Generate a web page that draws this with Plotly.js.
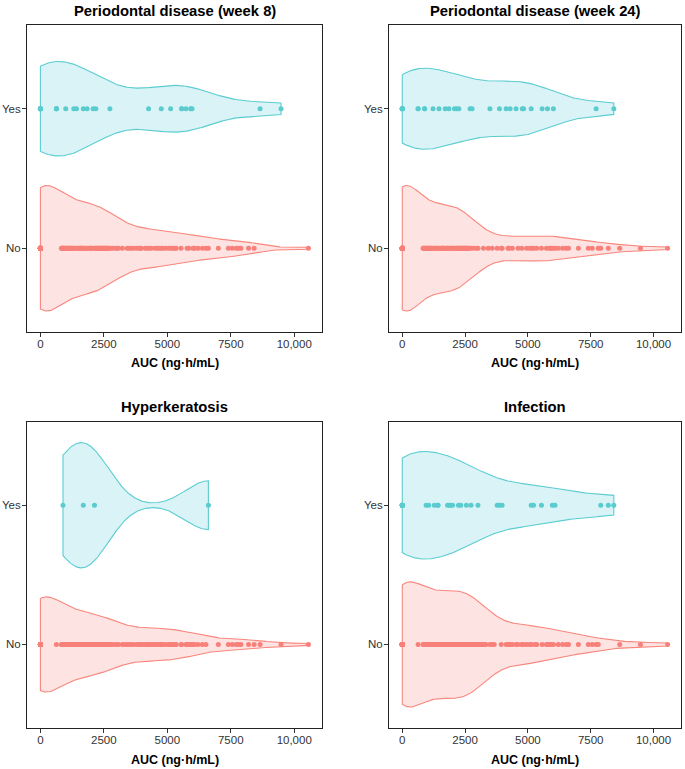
<!DOCTYPE html>
<html><head><meta charset="utf-8">
<script src="https://cdn.plot.ly/plotly-3.0.1.min.js"></script>
<style>html,body{margin:0;padding:0;background:#fff}#chart{width:685px;height:769px}</style>
</head><body><div id="chart"></div>
<script>
// ---- data (AUC, ng·h/mL) ----
const panelTitles = ['Periodontal disease (week 8)', 'Periodontal disease (week 24)', 'Hyperkeratosis', 'Infection'];
const categories = ['No', 'Yes'];          // bottom to top
const xTickVals = [0, 2500, 5000, 7500, 10000];
const xTickText = ['0', '2500', '5000', '7500', '10,000'];
const xAxisTitle = 'AUC (ng·h/mL)';

const p1Yes = [0, 0, 0, 0, 0, 0, 0, 0, 630, 630, 630, 999, 1315, 1420, 1690, 1841, 2078, 2183, 2737,
  4262, 4762, 5131, 5566, 5566, 5736, 5920, 5973, 8655, 9480];
const p1No = [0,0,0,0,0,0,0,0,0,0, 0,0,0,0,0,0,0,0,0,0, 0,0,0,0,0,0,0,0,0,0, 0,0,0,0,0,0,0,0,0,0, 0,0,0,0,0,0,0,0,0,0, 0,0,0,0,0,0,
  828, 850, 866, 890, 912, 935, 950, 975, 1030, 1053, 1087, 1110, 1128, 1171, 1200, 1225, 1250, 1276, 1352, 1394,
  1462, 1497, 1546, 1580, 1589, 1623, 1660, 1712, 1751, 1803, 1857, 1895, 1948, 1990, 2000, 2040, 2131, 2173, 2210, 2237,
  2252, 2290, 2300, 2329, 2371, 2390, 2420, 2440, 2468, 2490, 2512, 2553, 2580, 2610, 2640, 2670, 2699, 2778, 2840, 2960,
  3013, 3080, 3230, 3420, 3489, 3580, 3660, 3777, 3869, 3940, 3974, 4133, 4210, 4291, 4380, 4528, 4610, 4700, 4778, 4831,
  4950, 5060, 5150, 5224, 5290, 5350, 5540, 5779, 5850, 6015, 6080, 6210, 6380, 6520, 6618, 7010, 7405, 7560, 7715, 7800,
  7900, 8200, 8420, 10560];

const p2Yes = [0, 0, 0, 0, 0, 0, 0, 630, 630, 890, 890, 1225, 1462, 1712, 1857, 2078, 2173, 2252, 2699, 2778,
  3489, 3869, 4133, 4291, 4528, 4778, 4831, 5131, 5566, 5779, 6015, 7715, 8420];
const p2No = [0,0,0,0,0,0,0,0,0,0, 0,0,0,0,0,0,0,0,0,0, 0,0,0,0,0,0,0,0,0,0, 0,0,0,0,0,0,0,0,0,0, 0,0,0,0,0,0,0,0,0,0, 0,0,0,0,0,0,
  828, 850, 866, 912, 935, 950, 975, 999, 1030, 1053, 1087, 1110, 1128, 1171, 1200, 1250, 1276, 1315, 1352, 1394,
  1420, 1497, 1546, 1580, 1589, 1623, 1660, 1690, 1751, 1780, 1803, 1841, 1895, 1948, 1990, 2000, 2040, 2131, 2150, 2183,
  2210, 2237, 2290, 2300, 2329, 2371, 2390, 2420, 2440, 2468, 2490, 2512, 2553, 2580, 2610, 2640, 2670, 2737, 2840, 2960,
  3013, 3230, 3420, 3580, 3777, 3940, 3974, 4210, 4262, 4380, 4610, 4762, 4950, 5060, 5150, 5224, 5350, 5540, 5736, 5850,
  5920, 5973, 6080, 6210, 6380, 6520, 6618, 7010, 7405, 7560, 7800, 7900, 8200, 8655, 9480, 10560];

const p3Yes = [890, 1690, 2131, 6618];
const p3No = [0,0,0,0,0,0,0,0,0,0, 0,0,0,0,0,0,0,0,0,0, 0,0,0,0,0,0,0,0,0,0, 0,0,0,0,0,0,0,0,0,0, 0,0,0,0,0,0,0,0,0,0, 0,0,0,0,0,0,0,0,0,0, 0,0,0,0,
  630, 828, 850, 866, 912, 935, 950, 975, 999, 1030, 1053, 1087, 1110, 1128, 1171, 1200, 1225, 1250, 1276, 1315,
  1352, 1394, 1420, 1462, 1497, 1546, 1589, 1623, 1660, 1712, 1751, 1803, 1841, 1857, 1895, 1948, 2000, 2040, 2078, 2173,
  2183, 2210, 2237, 2252, 2290, 2329, 2371, 2390, 2420, 2440, 2468, 2490, 2512, 2553, 2580, 2610, 2640, 2670, 2699, 2737,
  2778, 2840, 2960, 3013, 3080, 3230, 3330, 3420, 3489, 3580, 3660, 3777, 3869, 3940, 3974, 4050, 4133, 4210, 4262, 4291,
  4380, 4470, 4528, 4610, 4700, 4762, 4778, 4831, 4950, 5060, 5131, 5150, 5224, 5290, 5350, 5540, 5566, 5736, 5779, 5850,
  5920, 5973, 6015, 6080, 6210, 6380, 6520, 7010, 7405, 7560, 7715, 7800, 7900, 8200, 8420, 8655, 9480, 10560];

const p4Yes = [0, 0, 0, 0, 0, 0, 0, 0, 0, 0, 0, 950, 1053, 1276, 1420, 1420, 1803, 1895, 1895, 2000,
  2237, 2329, 2553, 2737, 3013, 3777, 3869, 3974, 5131, 5224, 5540, 5973, 6080, 7900, 8200, 8420];
const p4No = [0,0,0,0,0,0,0,0,0,0, 0,0,0,0,0,0,0,0,0,0, 0,0,0,0,0,0,0,0,0,0, 0,0,0,0,0,0,0,0,0,0, 0,0,0,0,0,0,0,
  630, 828, 850, 866, 890, 912, 935, 975, 999, 1030, 1087, 1110, 1128, 1171, 1200, 1225, 1250, 1315, 1352, 1394,
  1462, 1497, 1546, 1580, 1589, 1623, 1660, 1690, 1712, 1751, 1780, 1841, 1857, 1948, 1990, 2040, 2078, 2131, 2173, 2183,
  2210, 2252, 2290, 2300, 2371, 2390, 2420, 2440, 2468, 2490, 2512, 2550, 2580, 2610, 2640, 2670, 2699, 2720, 2778, 2800,
  2840, 2860, 2880, 2920, 2960, 2990, 3040, 3080, 3110, 3150, 3190, 3230, 3260, 3330, 3489, 3580, 3660, 3940, 4133, 4210,
  4262, 4291, 4380, 4528, 4610, 4762, 4778, 4831, 4950, 5060, 5150, 5290, 5350, 5566, 5736, 5779, 5850, 5920, 6015, 6210,
  6380, 6520, 6618, 7010, 7405, 7560, 7715, 7800, 8655, 9480, 10560];

const panels = [
  {yes: p1Yes, no: p1No},
  {yes: p2Yes, no: p2No},
  {yes: p3Yes, no: p3No},
  {yes: p4Yes, no: p4No}
];

// ---- styling ----
const FONT = 'Liberation Sans, Arial, Helvetica, sans-serif';
const STYLE = {
  Yes: {line: '#5BCDD1', fill: '#D9F3F6', pt: '#5ACBCE'},
  No:  {line: '#F8867D', fill: '#FDE3E1', pt: '#F7807A'}
};
const HALF_WIDTH = 0.45;   // violin half width (category units)

// R's bw.nrd0
function nrd0(v) {
  const s = v.slice().sort((a, b) => a - b), n = s.length;
  const mean = s.reduce((a, b) => a + b, 0) / n;
  const sd = Math.sqrt(s.reduce((a, b) => a + (b - mean) * (b - mean), 0) / (n - 1));
  const q = p => { const h = (n - 1) * p, lo = Math.floor(h); return lo + 1 < n ? s[lo] + (h - lo) * (s[lo + 1] - s[lo]) : s[lo]; };
  let lo = Math.min(sd, (q(0.75) - q(0.25)) / 1.34);
  if (!(lo > 0)) lo = sd || Math.abs(s[0]) || 1;
  return 0.9 * lo * Math.pow(n, -0.2);
}
// Gaussian kernel density, trimmed to the data range (as geom_violin(trim = TRUE))
function density(vals, m) {
  const bw = nrd0(vals), n = vals.length, c = 1 / (n * bw * Math.sqrt(2 * Math.PI));
  const lo = Math.min(...vals), hi = Math.max(...vals);
  const xs = [], ds = [];
  for (let i = 0; i < m; i++) {
    const x = lo + (hi - lo) * i / (m - 1);
    let s = 0;
    for (let j = 0; j < n; j++) { const u = (x - vals[j]) / bw; s += Math.exp(-0.5 * u * u); }
    xs.push(x); ds.push(s * c);
  }
  return {xs, ds};
}

const xDom = [[27 / 685, 322 / 685], [389 / 685, 681 / 685]];
const yDom = [[1 - 332 / 769, 1 - 25 / 769], [1 - 728 / 769, 1 - 421.7 / 769]];
const catPos = categories.map((c, i) => i + 1);

const traces = [];
const layout = {
  width: 685, height: 769,
  margin: {l: 0, r: 0, t: 0, b: 0},
  paper_bgcolor: '#fff', plot_bgcolor: '#fff',
  showlegend: false,
  font: {family: FONT, color: '#000'},
  annotations: []
};

panels.forEach((p, i) => {
  const k = i + 1, sfx = k === 1 ? '' : String(k);
  const xa = 'x' + sfx, ya = 'y' + sfx;
  const col = i % 2, row = Math.floor(i / 2);
  const groups = {No: p.no, Yes: p.yes};
  const dens = {};
  categories.forEach(c => { dens[c] = density(groups[c], 512); });
  // scale = "area": widths proportional to density, widest violin in the panel gets full width
  const maxD = Math.max(...categories.map(c => Math.max(...dens[c].ds)));
  categories.forEach((c, ci) => {
    const pos = catPos[ci], d = dens[c];
    const up = d.ds.map(v => pos + HALF_WIDTH * v / maxD);
    const dn = d.ds.map(v => pos - HALF_WIDTH * v / maxD).reverse();
    traces.push({
      type: 'scatter', mode: 'lines', name: c, xaxis: xa, yaxis: ya,
      x: d.xs.concat(d.xs.slice().reverse(), [d.xs[0]]),
      y: up.concat(dn, [up[0]]),
      fill: 'toself', fillcolor: STYLE[c].fill,
      line: {color: STYLE[c].line, width: 1.1},
      hoverinfo: 'skip'
    });
  });
  categories.forEach((c, ci) => {
    traces.push({
      type: 'scatter', mode: 'markers', name: c, xaxis: xa, yaxis: ya,
      x: groups[c], y: groups[c].map(() => catPos[ci]),
      marker: {color: STYLE[c].pt, size: 5, line: {width: 0}},
      hoverinfo: 'skip'
    });
  });
  layout['xaxis' + sfx] = {
    domain: xDom[col], anchor: ya, range: [-528, 11094],
    tickvals: xTickVals, ticktext: xTickText,
    ticks: 'outside', ticklen: 4, tickwidth: 1, tickcolor: '#333',
    ticklabelstandoff: -3,
    tickfont: {family: FONT, size: 11.5, color: '#333'},
    showline: true, mirror: true, linecolor: '#222', linewidth: 1,
    showgrid: false, zeroline: false, fixedrange: true
  };
  layout['yaxis' + sfx] = {
    domain: yDom[row], anchor: xa, range: [0.4, 2.6],
    tickvals: catPos, ticktext: categories,
    ticks: 'outside', ticklen: 4, tickwidth: 1, tickcolor: '#333',
    ticklabelstandoff: -1,
    tickfont: {family: FONT, size: 11.5, color: '#333'},
    showline: true, mirror: true, linecolor: '#222', linewidth: 1,
    showgrid: false, zeroline: false, fixedrange: true
  };
  const xc = (xDom[col][0] + xDom[col][1]) / 2;
  layout.annotations.push({
    text: panelTitles[i], xref: 'paper', yref: 'paper', x: xc,
    y: row === 0 ? 1 - 11 / 769 : 1 - 407 / 769, xanchor: 'center', yanchor: 'middle',
    showarrow: false, font: {family: FONT, size: 14.8, color: '#000', weight: 'bold'}
  });
  layout.annotations.push({
    text: xAxisTitle, xref: 'paper', yref: 'paper', x: xc,
    y: row === 0 ? 1 - 363 / 769 : 1 - 760 / 769, xanchor: 'center', yanchor: 'middle',
    showarrow: false, font: {family: FONT, size: 12.5, color: '#000', weight: 'bold'}
  });
});

Plotly.newPlot('chart', traces, layout, {staticPlot: true, displayModeBar: false});
</script>
</body></html>
